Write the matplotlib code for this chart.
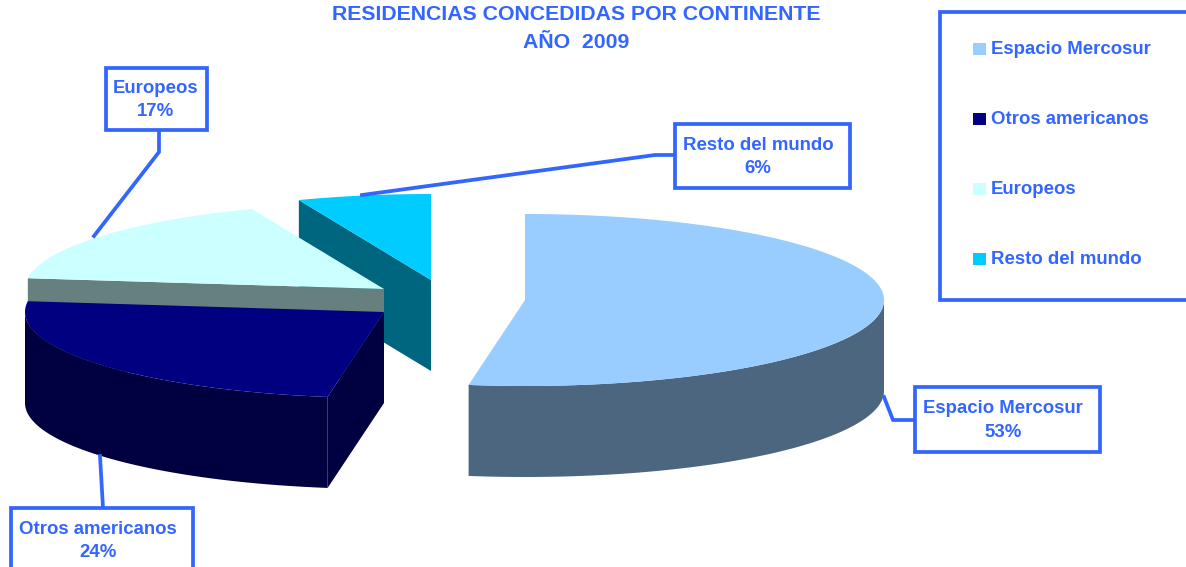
import numpy as np
import matplotlib
matplotlib.use('Agg')
import matplotlib.pyplot as plt
from matplotlib.patches import Polygon, Rectangle

plt.rcParams['font.family'] = ['Liberation Sans', 'DejaVu Sans']

labels = ['Espacio Mercosur', 'Otros americanos', 'Europeos', 'Resto del mundo']
values = [52.51, 24.49, 17.0, 6.0]
top_colors = ['#99CCFF', '#000080', '#CCFFFF', '#00CCFF']
side_colors = ['#4D667F', '#000040', '#667F7F', '#00667F']
title = 'RESIDENCIAS CONCEDIDAS POR CONTINENTE\nAÑO  2009'

# apex of each slice in pixels (the exploded pie)
centers = [(525, 300), (384, 312), (384, 289), (431, 280)]
RX, RY, DEPTH = 359, 86, 91
BLUE = '#3366FF'
LW = 2.7

fig = plt.figure(figsize=(11.86, 5.67), dpi=100)
ax = fig.add_axes([0, 0, 1, 1])
ax.set_xlim(0, 1186)
ax.set_ylim(567, 0)
ax.axis('off')

# slice angles, clockwise from 12 o'clock
edges = np.concatenate([[0], np.cumsum(values)]) / sum(values) * 2 * np.pi


def draw_slice(i, z):
    cx, cy = centers[i]
    t = np.linspace(edges[i], edges[i + 1], 720)
    r = np.column_stack([cx + RX * np.sin(t), cy - RY * np.cos(t)])
    # cut faces, only the ones turned to the viewer
    if np.sin(edges[i]) < -1e-6:
        face = [(cx, cy), r[0], r[0] + [0, DEPTH], (cx, cy + DEPTH)]
        ax.add_patch(Polygon(face, fc=side_colors[i], ec='none', zorder=z))
    if np.sin(edges[i + 1]) > 1e-6:
        face = [(cx, cy), r[-1], r[-1] + [0, DEPTH], (cx, cy + DEPTH)]
        ax.add_patch(Polygon(face, fc=side_colors[i], ec='none', zorder=z))
    # outer wall, front half only
    front = r[np.cos(t) < 0]
    if len(front):
        wall = np.vstack([front, front[::-1] + [0, DEPTH]])
        ax.add_patch(Polygon(wall, fc=side_colors[i], ec='none', zorder=z))
    ax.add_patch(Polygon(np.vstack([[cx, cy], r]), fc=top_colors[i], ec='none', zorder=z + 0.5))


for z, i in enumerate([3, 2, 1, 0]):
    draw_slice(i, z + 1)

ax.text(576, 28.5, title, ha='center', va='center', color=BLUE, fontsize=15.3,
        fontweight='bold', linespacing=1.55, zorder=10)

# data label boxes: x0, y0, x1, y1
boxes = [(915, 387, 1100, 452), (11, 508, 193, 572), (106, 68, 207, 130), (675, 124, 850, 188)]
text_x = [1003, 98, 156, 758]
leaders = [[(884, 397), (893, 420), (915, 420)],
           [(100, 456), (103, 508)],
           [(94, 236), (159, 152), (159, 130)],
           [(362, 195), (655, 155), (675, 155)]]
for name, val, b, tx, line in zip(labels, values, boxes, text_x, leaders):
    xs, ys = zip(*line)
    ax.plot(xs, ys, color=BLUE, lw=LW, zorder=8, solid_joinstyle='miter')
    ax.add_patch(Rectangle((b[0], b[1]), b[2] - b[0], b[3] - b[1], fc='white', ec=BLUE, lw=LW, zorder=9))
    ax.text(tx, (b[1] + b[3]) / 2 + 1, f'{name}\n{val:.0f}%', ha='center', va='center',
            color=BLUE, fontsize=13.4, fontweight='bold', linespacing=1.5, zorder=10, clip_on=False)

# legend
ax.add_patch(Rectangle((940, 12), 260, 288, fc='white', ec=BLUE, lw=LW, zorder=9))
legend_y = [49, 119, 189, 259]
for name, col, y in zip(labels, top_colors, legend_y):
    ax.add_patch(Rectangle((973, y - 6), 13, 12, fc=col, ec='none', zorder=10))
    ax.text(991, y + 1, name, ha='left', va='center', color=BLUE, fontsize=13.4, fontweight='bold', zorder=10)

fig.savefig('out.png', dpi=100)
